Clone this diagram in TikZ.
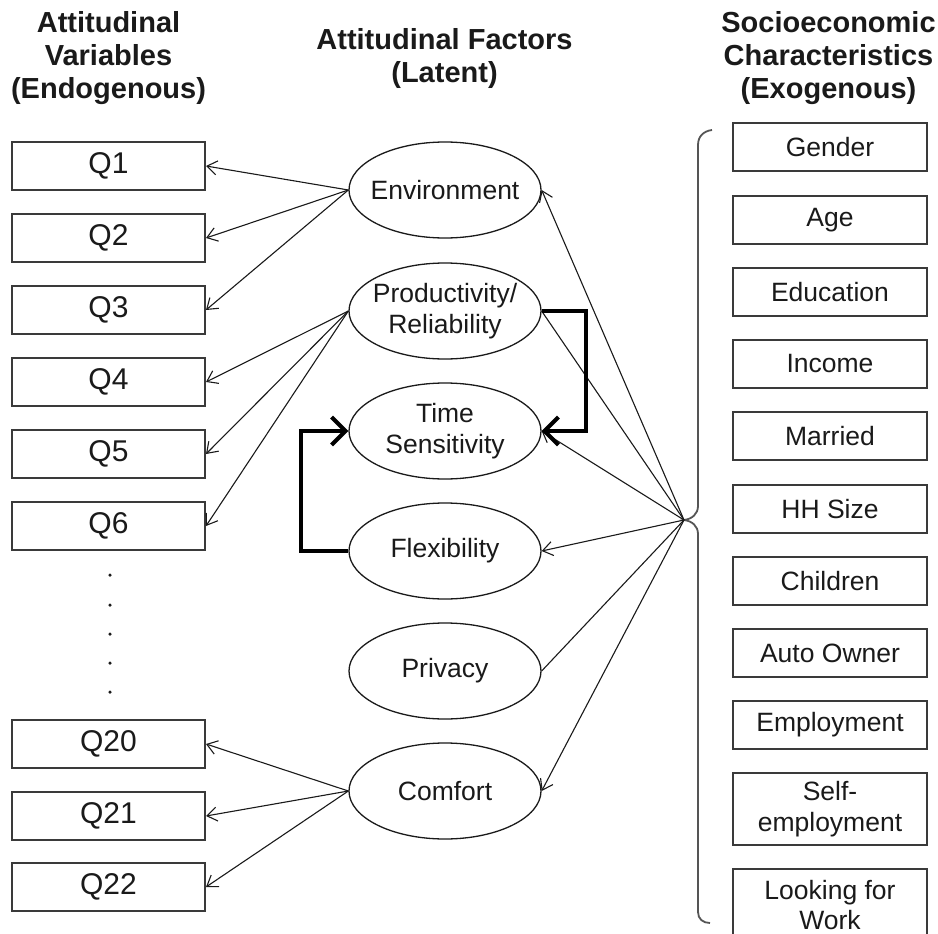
\documentclass[tikz,border=0pt]{standalone}
\usepackage{fontspec}
\setmainfont{Liberation Sans}
\usetikzlibrary{arrows.meta,shapes.geometric}
\definecolor{txt}{HTML}{1A1A1A}
\definecolor{boxgray}{HTML}{3A3A3A}
\definecolor{bracegray}{HTML}{555555}
\begin{document}
\begin{tikzpicture}[x=1pt,y=-1pt,
  qbox/.style={draw=boxgray,line width=2pt,minimum width=193pt,minimum height=48pt,inner sep=0pt,font=\fontsize{30}{34}\selectfont,text=txt},
  sbox/.style={draw=boxgray,line width=2pt,minimum width=194pt,minimum height=48pt,inner sep=0pt,align=center,font=\fontsize{26.5}{30.5}\selectfont,text=txt},
  factor/.style={ellipse,draw=txt,line width=1.3pt,minimum width=192pt,minimum height=96pt,inner xsep=-30pt,inner ysep=0pt,align=center,font=\fontsize{26.5}{31}\selectfont,text=txt},
  header/.style={align=center,font=\fontsize{29}{33}\selectfont\bfseries,text=txt},
  lnk/.style={draw=txt,line width=1.1pt,-{Straight Barb[length=10pt,width=14pt]}},
  plainlnk/.style={draw=txt,line width=1.1pt},
  blnk/.style={draw=black,line width=4pt,-{Straight Barb[length=14pt,width=28pt]}},
  dotmark/.style={fill=txt,circle,inner sep=0pt,minimum size=3.5pt},
]
\clip (0,0) rectangle (938,934);
\fill[white] (0,0) rectangle (938,934);

% headers
\node[header] (h1) at (108.5,58) {Attitudinal\\Variables\\(Endogenous)};
\node[header] (h2) at (444.5,59) {Attitudinal Factors\\(Latent)};
\node[header] (h3) at (828.5,58) {Socioeconomic\\Characteristics\\(Exogenous)};

% left boxes
\node[qbox] (q1) at (108.5,166) {Q1};
\node[qbox] (q2) at (108.5,238) {Q2};
\node[qbox] (q3) at (108.5,310) {Q3};
\node[qbox] (q4) at (108.5,382) {Q4};
\node[qbox] (q5) at (108.5,454) {Q5};
\node[qbox] (q6) at (108.5,526) {Q6};
\node[qbox] (q20) at (108.5,744) {Q20};
\node[qbox] (q21) at (108.5,816) {Q21};
\node[qbox] (q22) at (108.5,887) {Q22};

% dots
\node[dotmark] (d1) at (110,575) {};
\node[dotmark] (d2) at (110,605) {};
\node[dotmark] (d3) at (110,634) {};
\node[dotmark] (d4) at (110,663) {};
\node[dotmark] (d5) at (110,692) {};

% factors
\node[factor] (env) at (445,190) {Environment};
\node[factor] (prod) at (445,311) {Productivity/\\Reliability};
\node[factor] (time) at (445,431) {Time\\Sensitivity};
\node[factor] (flex) at (445,551) {Flexibility};
\node[factor] (priv) at (445,671) {Privacy};
\node[factor] (comf) at (445,791) {Comfort};

% right boxes
\node[sbox] (gender) at (830,147) {Gender};
\node[sbox] (age) at (830,220) {Age};
\node[sbox] (edu) at (830,292) {Education};
\node[sbox] (inc) at (830,364) {Income};
\node[sbox] (mar) at (830,436) {Married};
\node[sbox] (hh) at (830,509) {HH Size};
\node[sbox] (chi) at (830,581) {Children};
\node[sbox] (auto) at (830,653) {Auto Owner};
\node[sbox] (emp) at (830,725) {Employment};
\node[sbox,minimum height=72pt] (self) at (830,809) {Self-\\employment};
\node[sbox,minimum height=72pt] (look) at (830,905) {Looking for\\Work};

% brace
\draw[bracegray,line width=1.8pt] (712,130) .. controls (704,131) and (698,136) .. (698,145) -- (698,506) .. controls (698,514) and (692,519) .. (684,520) .. controls (692,521) and (698,526) .. (698,534) -- (698,912) .. controls (698,919) and (703,923) .. (710,923);
\coordinate (tip) at (684,520);

% left fans
\draw[lnk] (env.west) -- (q1.east);
\draw[lnk] (env.west) -- (q2.east);
\draw[lnk] (env.west) -- (q3.east);
\draw[lnk] (prod.west) -- (q4.east);
\draw[lnk] (prod.west) -- (q5.east);
\draw[lnk] (prod.west) -- (q6.east);
\draw[lnk] (comf.west) -- (q20.east);
\draw[lnk] (comf.west) -- (q21.east);
\draw[lnk] (comf.west) -- (q22.east);

% right fan
\draw[lnk] (tip) -- (env.east);
\draw[plainlnk] (tip) -- (prod.east);
\draw[lnk] (tip) -- (time.east);
\draw[lnk] (tip) -- (flex.east);
\draw[plainlnk] (tip) -- (priv.east);
\draw[lnk] (tip) -- (comf.east);

% thick brackets
\draw[blnk] (prod.east) -- ++(44,0) |- (time.east);
\draw[blnk] (flex.west) -- ++(-47,0) |- (time.west);
\end{tikzpicture}
\end{document}
